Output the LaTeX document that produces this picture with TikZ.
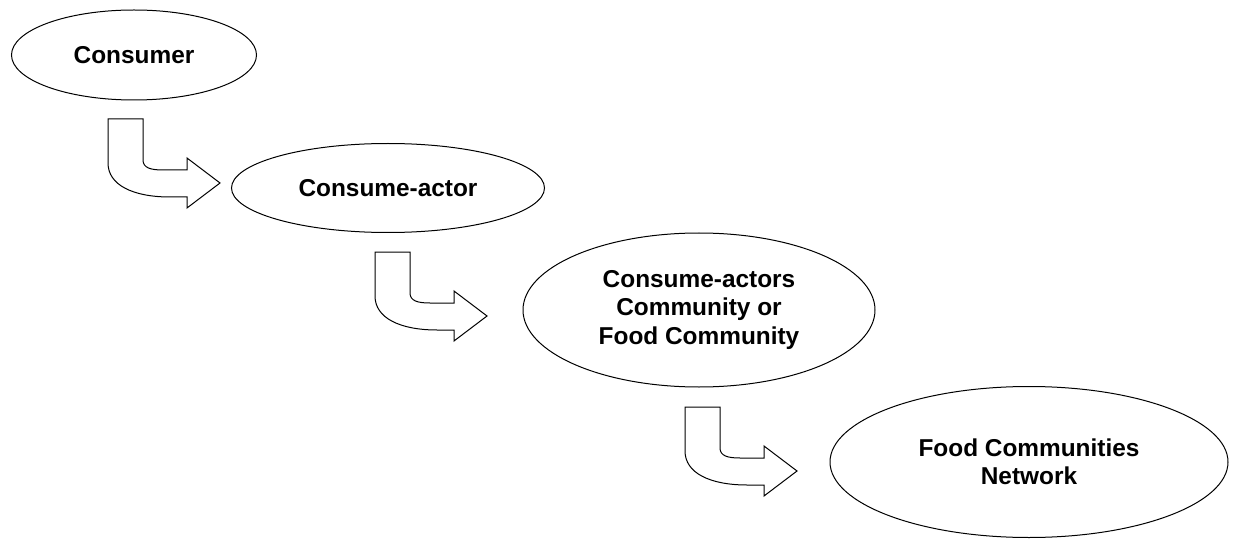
\documentclass[tikz,border=0pt]{standalone}
\usepackage{fontspec}
\setmainfont{Liberation Sans}
\usetikzlibrary{shapes.geometric}

\tikzset{
  etape/.style={ellipse, draw, line width=1pt, inner sep=0pt, align=center,
    font=\bfseries\fontsize{24.4}{28.5}\selectfont},
  fleche/.pic={
    % Flèche coudée : tige verticale puis pointe vers la droite
    \draw[line width=1pt, line join=miter]
      (0,0) -- (35,0) -- (35,41) .. controls (35,49) and (43,51) .. (55,51)
      -- (79,51) -- (79,39) -- (112,64) -- (79,89) -- (79,78) -- (62,78)
      .. controls (25,78) and (0,66) .. (0,44) -- cycle;
  }
}

\begin{document}
\begin{tikzpicture}[x=1pt, y=-1pt]

  % Cadre de l'image (1234 x 540)
  \useasboundingbox (0,0) rectangle (1234,540);

  % Les quatre étapes, en escalier de haut en bas
  \node[etape, minimum width=245pt, minimum height=90pt] (consumer) at (134,55) {Consumer};
  \node[etape, minimum width=313pt, minimum height=89pt] (actor) at (388,188) {Consume-actor};
  \node[etape, minimum width=352pt, minimum height=154pt] (community) at (699,310)
    {Consume-actors\\Community or\\Food Community};
  \node[etape, minimum width=398pt, minimum height=151pt] (network) at (1029,462)
    {Food Communities\\Network};

  % Flèches coudées entre deux étapes
  \foreach \x/\y in {108/119, 375/252, 685/407} {
    \pic at (\x,\y) {fleche};
  }

\end{tikzpicture}
\end{document}
